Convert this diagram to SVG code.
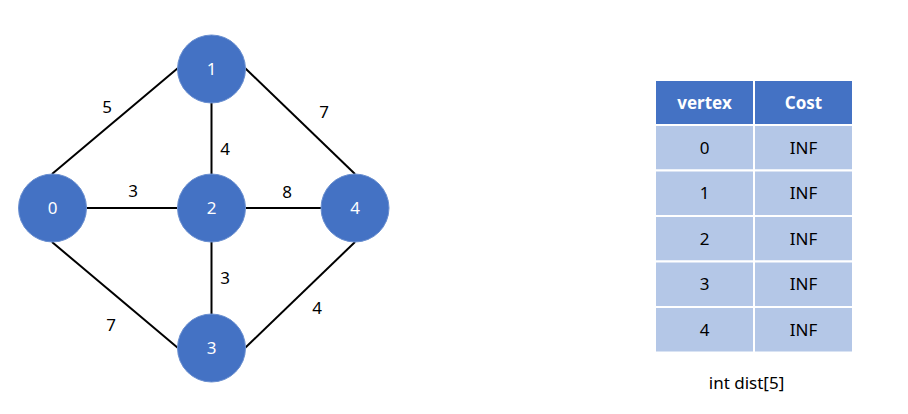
<svg xmlns="http://www.w3.org/2000/svg" width="908" height="414" viewBox="0 0 908 414">
<style>
.node{fill:#4472C4;stroke:#6a8fd0;stroke-width:1}
.nl{fill:#fff;font-family:"Noto Sans","Liberation Sans",sans-serif;font-size:17px;text-anchor:middle}
.el{fill:#000;font-family:"Noto Sans","Liberation Sans",sans-serif;font-size:17px;text-anchor:middle}
.edge{stroke:#000;stroke-width:2;fill:none}
.hd{fill:#4472C4;stroke:#fff;stroke-width:2}
.cell{fill:#B4C7E7;stroke:#fff;stroke-width:2}
.ht{fill:#fff;font-family:"Noto Sans","Liberation Sans",sans-serif;font-size:17px;font-weight:bold;text-anchor:middle}
.ct{fill:#000;font-family:"Noto Sans","Liberation Sans",sans-serif;font-size:17px;text-anchor:middle}
</style>
<rect width="908" height="414" fill="#fff"/>
<g id="edges">
<line class="edge" x1="52" y1="174" x2="178" y2="68"/>
<line class="edge" x1="245" y1="68" x2="355" y2="174"/>
<line class="edge" x1="52" y1="242" x2="178" y2="348"/>
<line class="edge" x1="245" y1="348" x2="355" y2="242"/>
<line class="edge" x1="211.5" y1="103" x2="211.5" y2="174"/>
<line class="edge" x1="211.5" y1="242" x2="211.5" y2="314"/>
<line class="edge" x1="86" y1="208" x2="177" y2="208"/>
<line class="edge" x1="246" y1="208" x2="321" y2="208"/>
<text class="el" x="107" y="113">5</text>
<text class="el" x="324" y="118">7</text>
<text class="el" x="225" y="155">4</text>
<text class="el" x="133" y="197">3</text>
<text class="el" x="287" y="198">8</text>
<text class="el" x="225" y="284">3</text>
<text class="el" x="111" y="331">7</text>
<text class="el" x="317" y="314">4</text>
</g>
<g id="node0"><circle class="node" cx="52.5" cy="208" r="34"/><text class="nl" x="52.5" y="214">0</text></g>
<g id="node1"><circle class="node" cx="211.5" cy="69" r="34"/><text class="nl" x="211.5" y="75">1</text></g>
<g id="node2"><circle class="node" cx="211.5" cy="208" r="34"/><text class="nl" x="211.5" y="214">2</text></g>
<g id="node3"><circle class="node" cx="211.5" cy="348" r="34"/><text class="nl" x="211.5" y="354">3</text></g>
<g id="node4"><circle class="node" cx="355" cy="208" r="34"/><text class="nl" x="355" y="214">4</text></g>
<g id="table">
<rect class="hd" x="655" y="80" width="99" height="45"/>
<rect class="hd" x="754" y="80" width="99" height="45"/>
<text class="ht" x="704.5" y="109">vertex</text>
<text class="ht" x="803.5" y="109">Cost</text>
<rect class="cell" x="655" y="125" width="99" height="45.5"/><rect class="cell" x="754" y="125" width="99" height="45.5"/>
<rect class="cell" x="655" y="170.5" width="99" height="45.5"/><rect class="cell" x="754" y="170.5" width="99" height="45.5"/>
<rect class="cell" x="655" y="216" width="99" height="45.5"/><rect class="cell" x="754" y="216" width="99" height="45.5"/>
<rect class="cell" x="655" y="261.5" width="99" height="45.5"/><rect class="cell" x="754" y="261.5" width="99" height="45.5"/>
<rect class="cell" x="655" y="307" width="99" height="45.5"/><rect class="cell" x="754" y="307" width="99" height="45.5"/>
<text class="ct" x="704.5" y="154">0</text><text class="ct" x="803.5" y="154">INF</text>
<text class="ct" x="704.5" y="199">1</text><text class="ct" x="803.5" y="199">INF</text>
<text class="ct" x="704.5" y="245">2</text><text class="ct" x="803.5" y="245">INF</text>
<text class="ct" x="704.5" y="290">3</text><text class="ct" x="803.5" y="290">INF</text>
<text class="ct" x="704.5" y="336">4</text><text class="ct" x="803.5" y="336">INF</text>
<text class="ct" x="746.5" y="389">int dist[5]</text>
</g>
</svg>
